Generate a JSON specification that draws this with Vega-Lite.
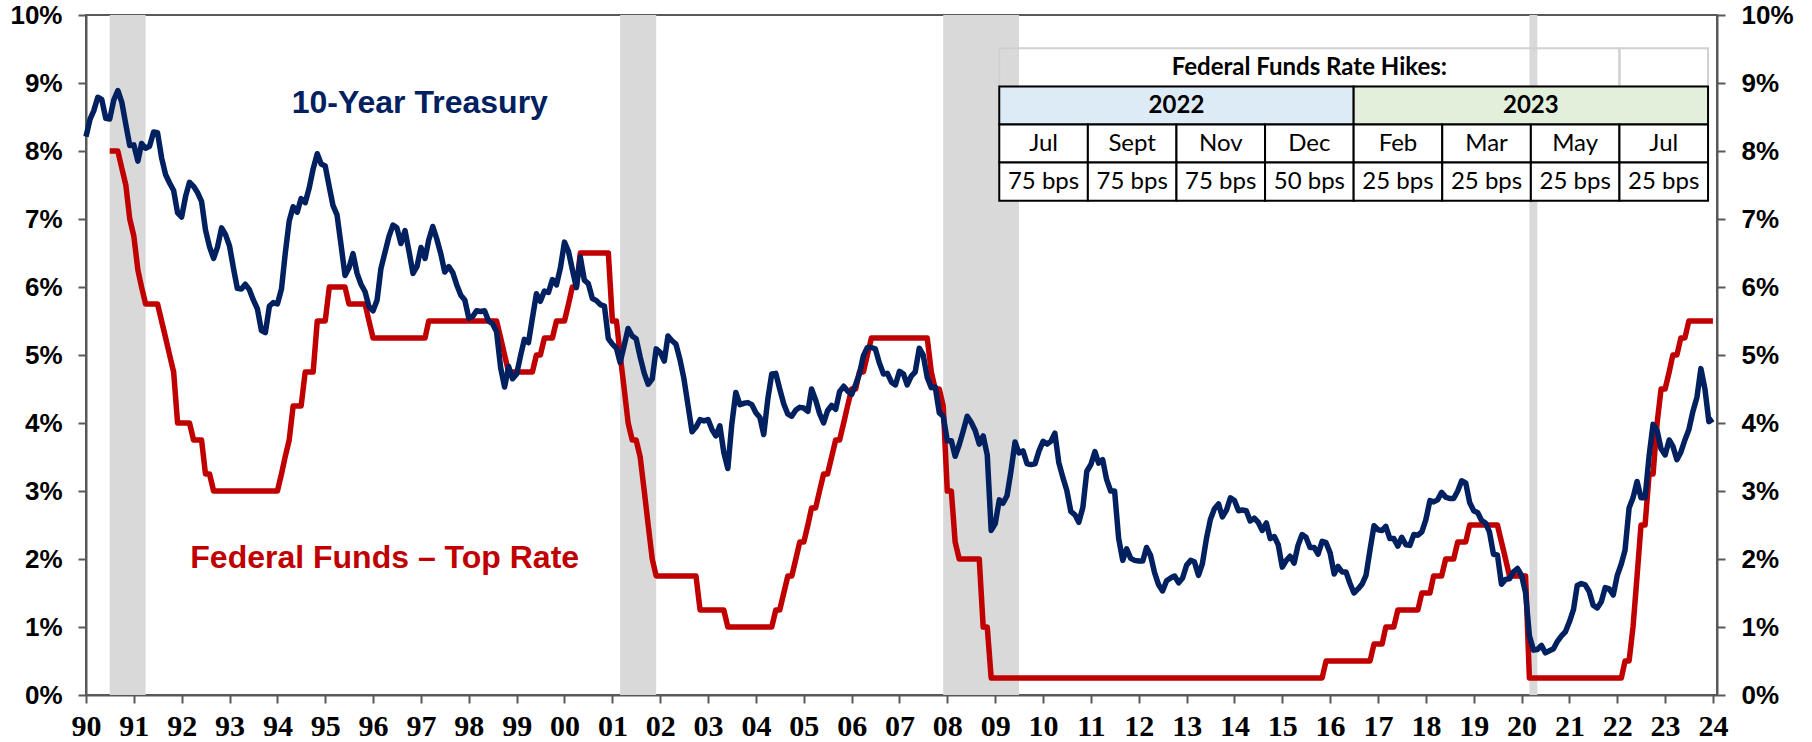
{
"$schema": "https://vega.github.io/schema/vega-lite/v6.json",
"width": 1631,
"height": 680,
"autosize": {"type": "none"},
"padding": {"left": 86, "top": 15, "right": 95, "bottom": 47},
"background": "#ffffff",
"config": {
  "view": {"stroke": "#595959", "strokeWidth": 2},
  "axis": {"domainColor": "#595959", "domainWidth": 2, "tickColor": "#595959", "tickWidth": 2, "tickSize": 8, "labelColor": "#000000", "labelFont": "Liberation Sans", "labelFontWeight": "bold", "grid": false},
  "axisX": {"labelFont": "Liberation Sans Narrow", "labelFontSize": 30, "labelPadding": 8},
  "axisY": {"labelFontSize": 26, "labelPadding": 16}
},
"datasets": {
"rates": [
{"date":"1990-01","ust":8.21},{"date":"1990-02","ust":8.47},{"date":"1990-03","ust":8.59},{"date":"1990-04","ust":8.79},{"date":"1990-05","ust":8.76},{"date":"1990-06","ust":8.48},{"date":"1990-07","ust":8.47,"ffr":8},{"date":"1990-08","ust":8.75,"ffr":8},{"date":"1990-09","ust":8.89,"ffr":8},{"date":"1990-10","ust":8.72,"ffr":7.75},{"date":"1990-11","ust":8.39,"ffr":7.5},{"date":"1990-12","ust":8.08,"ffr":7},
{"date":"1991-01","ust":8.09,"ffr":6.75},{"date":"1991-02","ust":7.85,"ffr":6.25},{"date":"1991-03","ust":8.11,"ffr":6},{"date":"1991-04","ust":8.04,"ffr":5.75},{"date":"1991-05","ust":8.07,"ffr":5.75},{"date":"1991-06","ust":8.28,"ffr":5.75},{"date":"1991-07","ust":8.27,"ffr":5.75},{"date":"1991-08","ust":7.9,"ffr":5.5},{"date":"1991-09","ust":7.65,"ffr":5.25},{"date":"1991-10","ust":7.53,"ffr":5},{"date":"1991-11","ust":7.42,"ffr":4.75},{"date":"1991-12","ust":7.09,"ffr":4},
{"date":"1992-01","ust":7.03,"ffr":4},{"date":"1992-02","ust":7.34,"ffr":4},{"date":"1992-03","ust":7.54,"ffr":4},{"date":"1992-04","ust":7.48,"ffr":3.75},{"date":"1992-05","ust":7.39,"ffr":3.75},{"date":"1992-06","ust":7.26,"ffr":3.75},{"date":"1992-07","ust":6.84,"ffr":3.25},{"date":"1992-08","ust":6.59,"ffr":3.25},{"date":"1992-09","ust":6.42,"ffr":3},{"date":"1992-10","ust":6.59,"ffr":3},{"date":"1992-11","ust":6.87,"ffr":3},{"date":"1992-12","ust":6.77,"ffr":3},
{"date":"1993-01","ust":6.6,"ffr":3},{"date":"1993-02","ust":6.26,"ffr":3},{"date":"1993-03","ust":5.98,"ffr":3},{"date":"1993-04","ust":5.97,"ffr":3},{"date":"1993-05","ust":6.04,"ffr":3},{"date":"1993-06","ust":5.96,"ffr":3},{"date":"1993-07","ust":5.81,"ffr":3},{"date":"1993-08","ust":5.68,"ffr":3},{"date":"1993-09","ust":5.36,"ffr":3},{"date":"1993-10","ust":5.33,"ffr":3},{"date":"1993-11","ust":5.72,"ffr":3},{"date":"1993-12","ust":5.77,"ffr":3},
{"date":"1994-01","ust":5.75,"ffr":3},{"date":"1994-02","ust":5.97,"ffr":3.25},{"date":"1994-03","ust":6.48,"ffr":3.5},{"date":"1994-04","ust":6.97,"ffr":3.75},{"date":"1994-05","ust":7.18,"ffr":4.25},{"date":"1994-06","ust":7.1,"ffr":4.25},{"date":"1994-07","ust":7.3,"ffr":4.25},{"date":"1994-08","ust":7.24,"ffr":4.75},{"date":"1994-09","ust":7.46,"ffr":4.75},{"date":"1994-10","ust":7.74,"ffr":4.75},{"date":"1994-11","ust":7.96,"ffr":5.5},{"date":"1994-12","ust":7.81,"ffr":5.5},
{"date":"1995-01","ust":7.78,"ffr":5.5},{"date":"1995-02","ust":7.47,"ffr":6},{"date":"1995-03","ust":7.2,"ffr":6},{"date":"1995-04","ust":7.06,"ffr":6},{"date":"1995-05","ust":6.63,"ffr":6},{"date":"1995-06","ust":6.17,"ffr":6},{"date":"1995-07","ust":6.28,"ffr":5.75},{"date":"1995-08","ust":6.49,"ffr":5.75},{"date":"1995-09","ust":6.2,"ffr":5.75},{"date":"1995-10","ust":6.04,"ffr":5.75},{"date":"1995-11","ust":5.93,"ffr":5.75},{"date":"1995-12","ust":5.71,"ffr":5.5},
{"date":"1996-01","ust":5.65,"ffr":5.25},{"date":"1996-02","ust":5.81,"ffr":5.25},{"date":"1996-03","ust":6.27,"ffr":5.25},{"date":"1996-04","ust":6.51,"ffr":5.25},{"date":"1996-05","ust":6.74,"ffr":5.25},{"date":"1996-06","ust":6.91,"ffr":5.25},{"date":"1996-07","ust":6.87,"ffr":5.25},{"date":"1996-08","ust":6.64,"ffr":5.25},{"date":"1996-09","ust":6.83,"ffr":5.25},{"date":"1996-10","ust":6.53,"ffr":5.25},{"date":"1996-11","ust":6.2,"ffr":5.25},{"date":"1996-12","ust":6.3,"ffr":5.25},
{"date":"1997-01","ust":6.58,"ffr":5.25},{"date":"1997-02","ust":6.42,"ffr":5.25},{"date":"1997-03","ust":6.69,"ffr":5.5},{"date":"1997-04","ust":6.89,"ffr":5.5},{"date":"1997-05","ust":6.71,"ffr":5.5},{"date":"1997-06","ust":6.49,"ffr":5.5},{"date":"1997-07","ust":6.22,"ffr":5.5},{"date":"1997-08","ust":6.3,"ffr":5.5},{"date":"1997-09","ust":6.21,"ffr":5.5},{"date":"1997-10","ust":6.03,"ffr":5.5},{"date":"1997-11","ust":5.88,"ffr":5.5},{"date":"1997-12","ust":5.81,"ffr":5.5},
{"date":"1998-01","ust":5.54,"ffr":5.5},{"date":"1998-02","ust":5.57,"ffr":5.5},{"date":"1998-03","ust":5.65,"ffr":5.5},{"date":"1998-04","ust":5.64,"ffr":5.5},{"date":"1998-05","ust":5.65,"ffr":5.5},{"date":"1998-06","ust":5.5,"ffr":5.5},{"date":"1998-07","ust":5.46,"ffr":5.5},{"date":"1998-08","ust":5.34,"ffr":5.5},{"date":"1998-09","ust":4.81,"ffr":5.25},{"date":"1998-10","ust":4.53,"ffr":5},{"date":"1998-11","ust":4.83,"ffr":4.75},{"date":"1998-12","ust":4.65,"ffr":4.75},
{"date":"1999-01","ust":4.72,"ffr":4.75},{"date":"1999-02","ust":5,"ffr":4.75},{"date":"1999-03","ust":5.23,"ffr":4.75},{"date":"1999-04","ust":5.18,"ffr":4.75},{"date":"1999-05","ust":5.54,"ffr":4.75},{"date":"1999-06","ust":5.9,"ffr":5},{"date":"1999-07","ust":5.79,"ffr":5},{"date":"1999-08","ust":5.94,"ffr":5.25},{"date":"1999-09","ust":5.92,"ffr":5.25},{"date":"1999-10","ust":6.11,"ffr":5.25},{"date":"1999-11","ust":6.03,"ffr":5.5},{"date":"1999-12","ust":6.28,"ffr":5.5},
{"date":"2000-01","ust":6.66,"ffr":5.5},{"date":"2000-02","ust":6.52,"ffr":5.75},{"date":"2000-03","ust":6.26,"ffr":6},{"date":"2000-04","ust":5.99,"ffr":6},{"date":"2000-05","ust":6.44,"ffr":6.5},{"date":"2000-06","ust":6.1,"ffr":6.5},{"date":"2000-07","ust":6.05,"ffr":6.5},{"date":"2000-08","ust":5.83,"ffr":6.5},{"date":"2000-09","ust":5.8,"ffr":6.5},{"date":"2000-10","ust":5.74,"ffr":6.5},{"date":"2000-11","ust":5.72,"ffr":6.5},{"date":"2000-12","ust":5.24,"ffr":6.5},
{"date":"2001-01","ust":5.16,"ffr":5.5},{"date":"2001-02","ust":5.1,"ffr":5.5},{"date":"2001-03","ust":4.89,"ffr":5},{"date":"2001-04","ust":5.14,"ffr":4.5},{"date":"2001-05","ust":5.39,"ffr":4},{"date":"2001-06","ust":5.28,"ffr":3.75},{"date":"2001-07","ust":5.24,"ffr":3.75},{"date":"2001-08","ust":4.97,"ffr":3.5},{"date":"2001-09","ust":4.73,"ffr":3},{"date":"2001-10","ust":4.57,"ffr":2.5},{"date":"2001-11","ust":4.65,"ffr":2},{"date":"2001-12","ust":5.09,"ffr":1.75},
{"date":"2002-01","ust":5.04,"ffr":1.75},{"date":"2002-02","ust":4.91,"ffr":1.75},{"date":"2002-03","ust":5.28,"ffr":1.75},{"date":"2002-04","ust":5.21,"ffr":1.75},{"date":"2002-05","ust":5.16,"ffr":1.75},{"date":"2002-06","ust":4.93,"ffr":1.75},{"date":"2002-07","ust":4.65,"ffr":1.75},{"date":"2002-08","ust":4.26,"ffr":1.75},{"date":"2002-09","ust":3.87,"ffr":1.75},{"date":"2002-10","ust":3.94,"ffr":1.75},{"date":"2002-11","ust":4.05,"ffr":1.25},{"date":"2002-12","ust":4.03,"ffr":1.25},
{"date":"2003-01","ust":4.05,"ffr":1.25},{"date":"2003-02","ust":3.9,"ffr":1.25},{"date":"2003-03","ust":3.81,"ffr":1.25},{"date":"2003-04","ust":3.96,"ffr":1.25},{"date":"2003-05","ust":3.57,"ffr":1.25},{"date":"2003-06","ust":3.33,"ffr":1},{"date":"2003-07","ust":3.98,"ffr":1},{"date":"2003-08","ust":4.45,"ffr":1},{"date":"2003-09","ust":4.27,"ffr":1},{"date":"2003-10","ust":4.29,"ffr":1},{"date":"2003-11","ust":4.3,"ffr":1},{"date":"2003-12","ust":4.27,"ffr":1},
{"date":"2004-01","ust":4.15,"ffr":1},{"date":"2004-02","ust":4.08,"ffr":1},{"date":"2004-03","ust":3.83,"ffr":1},{"date":"2004-04","ust":4.35,"ffr":1},{"date":"2004-05","ust":4.72,"ffr":1},{"date":"2004-06","ust":4.73,"ffr":1.25},{"date":"2004-07","ust":4.5,"ffr":1.25},{"date":"2004-08","ust":4.28,"ffr":1.5},{"date":"2004-09","ust":4.13,"ffr":1.75},{"date":"2004-10","ust":4.1,"ffr":1.75},{"date":"2004-11","ust":4.19,"ffr":2},{"date":"2004-12","ust":4.23,"ffr":2.25},
{"date":"2005-01","ust":4.22,"ffr":2.25},{"date":"2005-02","ust":4.17,"ffr":2.5},{"date":"2005-03","ust":4.5,"ffr":2.75},{"date":"2005-04","ust":4.34,"ffr":2.75},{"date":"2005-05","ust":4.14,"ffr":3},{"date":"2005-06","ust":4,"ffr":3.25},{"date":"2005-07","ust":4.18,"ffr":3.25},{"date":"2005-08","ust":4.26,"ffr":3.5},{"date":"2005-09","ust":4.2,"ffr":3.75},{"date":"2005-10","ust":4.46,"ffr":3.75},{"date":"2005-11","ust":4.54,"ffr":4},{"date":"2005-12","ust":4.47,"ffr":4.25},
{"date":"2006-01","ust":4.42,"ffr":4.5},{"date":"2006-02","ust":4.57,"ffr":4.5},{"date":"2006-03","ust":4.72,"ffr":4.75},{"date":"2006-04","ust":4.99,"ffr":4.75},{"date":"2006-05","ust":5.11,"ffr":5},{"date":"2006-06","ust":5.11,"ffr":5.25},{"date":"2006-07","ust":5.09,"ffr":5.25},{"date":"2006-08","ust":4.88,"ffr":5.25},{"date":"2006-09","ust":4.72,"ffr":5.25},{"date":"2006-10","ust":4.73,"ffr":5.25},{"date":"2006-11","ust":4.6,"ffr":5.25},{"date":"2006-12","ust":4.56,"ffr":5.25},
{"date":"2007-01","ust":4.76,"ffr":5.25},{"date":"2007-02","ust":4.72,"ffr":5.25},{"date":"2007-03","ust":4.56,"ffr":5.25},{"date":"2007-04","ust":4.69,"ffr":5.25},{"date":"2007-05","ust":4.75,"ffr":5.25},{"date":"2007-06","ust":5.1,"ffr":5.25},{"date":"2007-07","ust":5,"ffr":5.25},{"date":"2007-08","ust":4.67,"ffr":5.25},{"date":"2007-09","ust":4.52,"ffr":4.75},{"date":"2007-10","ust":4.53,"ffr":4.5},{"date":"2007-11","ust":4.15,"ffr":4.5},{"date":"2007-12","ust":4.1,"ffr":4.25},
{"date":"2008-01","ust":3.74,"ffr":3},{"date":"2008-02","ust":3.74,"ffr":3},{"date":"2008-03","ust":3.51,"ffr":2.25},{"date":"2008-04","ust":3.68,"ffr":2},{"date":"2008-05","ust":3.88,"ffr":2},{"date":"2008-06","ust":4.1,"ffr":2},{"date":"2008-07","ust":4.01,"ffr":2},{"date":"2008-08","ust":3.89,"ffr":2},{"date":"2008-09","ust":3.69,"ffr":2},{"date":"2008-10","ust":3.81,"ffr":1},{"date":"2008-11","ust":3.53,"ffr":1},{"date":"2008-12","ust":2.42,"ffr":0.25},
{"date":"2009-01","ust":2.52,"ffr":0.25},{"date":"2009-02","ust":2.87,"ffr":0.25},{"date":"2009-03","ust":2.82,"ffr":0.25},{"date":"2009-04","ust":2.93,"ffr":0.25},{"date":"2009-05","ust":3.29,"ffr":0.25},{"date":"2009-06","ust":3.72,"ffr":0.25},{"date":"2009-07","ust":3.56,"ffr":0.25},{"date":"2009-08","ust":3.59,"ffr":0.25},{"date":"2009-09","ust":3.4,"ffr":0.25},{"date":"2009-10","ust":3.39,"ffr":0.25},{"date":"2009-11","ust":3.4,"ffr":0.25},{"date":"2009-12","ust":3.59,"ffr":0.25},
{"date":"2010-01","ust":3.73,"ffr":0.25},{"date":"2010-02","ust":3.69,"ffr":0.25},{"date":"2010-03","ust":3.73,"ffr":0.25},{"date":"2010-04","ust":3.85,"ffr":0.25},{"date":"2010-05","ust":3.42,"ffr":0.25},{"date":"2010-06","ust":3.2,"ffr":0.25},{"date":"2010-07","ust":3.01,"ffr":0.25},{"date":"2010-08","ust":2.7,"ffr":0.25},{"date":"2010-09","ust":2.65,"ffr":0.25},{"date":"2010-10","ust":2.54,"ffr":0.25},{"date":"2010-11","ust":2.76,"ffr":0.25},{"date":"2010-12","ust":3.29,"ffr":0.25},
{"date":"2011-01","ust":3.39,"ffr":0.25},{"date":"2011-02","ust":3.58,"ffr":0.25},{"date":"2011-03","ust":3.41,"ffr":0.25},{"date":"2011-04","ust":3.46,"ffr":0.25},{"date":"2011-05","ust":3.17,"ffr":0.25},{"date":"2011-06","ust":3,"ffr":0.25},{"date":"2011-07","ust":3,"ffr":0.25},{"date":"2011-08","ust":2.3,"ffr":0.25},{"date":"2011-09","ust":1.98,"ffr":0.25},{"date":"2011-10","ust":2.15,"ffr":0.25},{"date":"2011-11","ust":2.01,"ffr":0.25},{"date":"2011-12","ust":1.98,"ffr":0.25},
{"date":"2012-01","ust":1.97,"ffr":0.25},{"date":"2012-02","ust":1.97,"ffr":0.25},{"date":"2012-03","ust":2.17,"ffr":0.25},{"date":"2012-04","ust":2.05,"ffr":0.25},{"date":"2012-05","ust":1.8,"ffr":0.25},{"date":"2012-06","ust":1.62,"ffr":0.25},{"date":"2012-07","ust":1.53,"ffr":0.25},{"date":"2012-08","ust":1.68,"ffr":0.25},{"date":"2012-09","ust":1.72,"ffr":0.25},{"date":"2012-10","ust":1.75,"ffr":0.25},{"date":"2012-11","ust":1.65,"ffr":0.25},{"date":"2012-12","ust":1.72,"ffr":0.25},
{"date":"2013-01","ust":1.91,"ffr":0.25},{"date":"2013-02","ust":1.98,"ffr":0.25},{"date":"2013-03","ust":1.96,"ffr":0.25},{"date":"2013-04","ust":1.76,"ffr":0.25},{"date":"2013-05","ust":1.93,"ffr":0.25},{"date":"2013-06","ust":2.3,"ffr":0.25},{"date":"2013-07","ust":2.58,"ffr":0.25},{"date":"2013-08","ust":2.74,"ffr":0.25},{"date":"2013-09","ust":2.81,"ffr":0.25},{"date":"2013-10","ust":2.62,"ffr":0.25},{"date":"2013-11","ust":2.72,"ffr":0.25},{"date":"2013-12","ust":2.9,"ffr":0.25},
{"date":"2014-01","ust":2.86,"ffr":0.25},{"date":"2014-02","ust":2.71,"ffr":0.25},{"date":"2014-03","ust":2.72,"ffr":0.25},{"date":"2014-04","ust":2.71,"ffr":0.25},{"date":"2014-05","ust":2.56,"ffr":0.25},{"date":"2014-06","ust":2.6,"ffr":0.25},{"date":"2014-07","ust":2.54,"ffr":0.25},{"date":"2014-08","ust":2.42,"ffr":0.25},{"date":"2014-09","ust":2.53,"ffr":0.25},{"date":"2014-10","ust":2.3,"ffr":0.25},{"date":"2014-11","ust":2.33,"ffr":0.25},{"date":"2014-12","ust":2.21,"ffr":0.25},
{"date":"2015-01","ust":1.88,"ffr":0.25},{"date":"2015-02","ust":1.98,"ffr":0.25},{"date":"2015-03","ust":2.04,"ffr":0.25},{"date":"2015-04","ust":1.94,"ffr":0.25},{"date":"2015-05","ust":2.2,"ffr":0.25},{"date":"2015-06","ust":2.36,"ffr":0.25},{"date":"2015-07","ust":2.32,"ffr":0.25},{"date":"2015-08","ust":2.17,"ffr":0.25},{"date":"2015-09","ust":2.17,"ffr":0.25},{"date":"2015-10","ust":2.07,"ffr":0.25},{"date":"2015-11","ust":2.26,"ffr":0.25},{"date":"2015-12","ust":2.24,"ffr":0.5},
{"date":"2016-01","ust":2.09,"ffr":0.5},{"date":"2016-02","ust":1.78,"ffr":0.5},{"date":"2016-03","ust":1.89,"ffr":0.5},{"date":"2016-04","ust":1.81,"ffr":0.5},{"date":"2016-05","ust":1.81,"ffr":0.5},{"date":"2016-06","ust":1.64,"ffr":0.5},{"date":"2016-07","ust":1.5,"ffr":0.5},{"date":"2016-08","ust":1.56,"ffr":0.5},{"date":"2016-09","ust":1.63,"ffr":0.5},{"date":"2016-10","ust":1.76,"ffr":0.5},{"date":"2016-11","ust":2.14,"ffr":0.5},{"date":"2016-12","ust":2.49,"ffr":0.75},
{"date":"2017-01","ust":2.43,"ffr":0.75},{"date":"2017-02","ust":2.42,"ffr":0.75},{"date":"2017-03","ust":2.48,"ffr":1},{"date":"2017-04","ust":2.3,"ffr":1},{"date":"2017-05","ust":2.3,"ffr":1},{"date":"2017-06","ust":2.19,"ffr":1.25},{"date":"2017-07","ust":2.32,"ffr":1.25},{"date":"2017-08","ust":2.21,"ffr":1.25},{"date":"2017-09","ust":2.2,"ffr":1.25},{"date":"2017-10","ust":2.36,"ffr":1.25},{"date":"2017-11","ust":2.35,"ffr":1.25},{"date":"2017-12","ust":2.4,"ffr":1.5},
{"date":"2018-01","ust":2.58,"ffr":1.5},{"date":"2018-02","ust":2.86,"ffr":1.5},{"date":"2018-03","ust":2.84,"ffr":1.75},{"date":"2018-04","ust":2.87,"ffr":1.75},{"date":"2018-05","ust":2.98,"ffr":1.75},{"date":"2018-06","ust":2.91,"ffr":2},{"date":"2018-07","ust":2.89,"ffr":2},{"date":"2018-08","ust":2.89,"ffr":2},{"date":"2018-09","ust":3,"ffr":2.25},{"date":"2018-10","ust":3.15,"ffr":2.25},{"date":"2018-11","ust":3.12,"ffr":2.25},{"date":"2018-12","ust":2.83,"ffr":2.5},
{"date":"2019-01","ust":2.71,"ffr":2.5},{"date":"2019-02","ust":2.68,"ffr":2.5},{"date":"2019-03","ust":2.57,"ffr":2.5},{"date":"2019-04","ust":2.53,"ffr":2.5},{"date":"2019-05","ust":2.4,"ffr":2.5},{"date":"2019-06","ust":2.07,"ffr":2.5},{"date":"2019-07","ust":2.06,"ffr":2.5},{"date":"2019-08","ust":1.63,"ffr":2.25},{"date":"2019-09","ust":1.7,"ffr":2},{"date":"2019-10","ust":1.71,"ffr":1.75},{"date":"2019-11","ust":1.81,"ffr":1.75},{"date":"2019-12","ust":1.86,"ffr":1.75},
{"date":"2020-01","ust":1.76,"ffr":1.75},{"date":"2020-02","ust":1.5,"ffr":1.75},{"date":"2020-03","ust":0.87,"ffr":0.25},{"date":"2020-04","ust":0.66,"ffr":0.25},{"date":"2020-05","ust":0.67,"ffr":0.25},{"date":"2020-06","ust":0.73,"ffr":0.25},{"date":"2020-07","ust":0.62,"ffr":0.25},{"date":"2020-08","ust":0.65,"ffr":0.25},{"date":"2020-09","ust":0.68,"ffr":0.25},{"date":"2020-10","ust":0.79,"ffr":0.25},{"date":"2020-11","ust":0.87,"ffr":0.25},{"date":"2020-12","ust":0.93,"ffr":0.25},
{"date":"2021-01","ust":1.08,"ffr":0.25},{"date":"2021-02","ust":1.26,"ffr":0.25},{"date":"2021-03","ust":1.61,"ffr":0.25},{"date":"2021-04","ust":1.64,"ffr":0.25},{"date":"2021-05","ust":1.62,"ffr":0.25},{"date":"2021-06","ust":1.52,"ffr":0.25},{"date":"2021-07","ust":1.32,"ffr":0.25},{"date":"2021-08","ust":1.28,"ffr":0.25},{"date":"2021-09","ust":1.37,"ffr":0.25},{"date":"2021-10","ust":1.58,"ffr":0.25},{"date":"2021-11","ust":1.56,"ffr":0.25},{"date":"2021-12","ust":1.47,"ffr":0.25},
{"date":"2022-01","ust":1.76,"ffr":0.25},{"date":"2022-02","ust":1.93,"ffr":0.25},{"date":"2022-03","ust":2.13,"ffr":0.5},{"date":"2022-04","ust":2.75,"ffr":0.5},{"date":"2022-05","ust":2.9,"ffr":1},{"date":"2022-06","ust":3.14,"ffr":1.75},{"date":"2022-07","ust":2.9,"ffr":2.5},{"date":"2022-08","ust":2.9,"ffr":2.5},{"date":"2022-09","ust":3.52,"ffr":3.25},{"date":"2022-10","ust":3.98,"ffr":3.25},{"date":"2022-11","ust":3.89,"ffr":4},{"date":"2022-12","ust":3.62,"ffr":4.5},
{"date":"2023-01","ust":3.53,"ffr":4.5},{"date":"2023-02","ust":3.75,"ffr":4.75},{"date":"2023-03","ust":3.66,"ffr":5},{"date":"2023-04","ust":3.46,"ffr":5},{"date":"2023-05","ust":3.57,"ffr":5.25},{"date":"2023-06","ust":3.75,"ffr":5.25},{"date":"2023-07","ust":3.9,"ffr":5.5},{"date":"2023-08","ust":4.17,"ffr":5.5},{"date":"2023-09","ust":4.38,"ffr":5.5},{"date":"2023-10","ust":4.8,"ffr":5.5},{"date":"2023-11","ust":4.5,"ffr":5.5},{"date":"2023-12","ust":4.02,"ffr":5.5},
{"date":"2024-01","ust":4.06,"ffr":5.5}
],
"table": [
{"part":"title","c0":0,"c1":7,"r0":0,"r1":1,"label":"Federal Funds Rate Hikes:"},
{"part":"title","c0":7,"c1":8,"r0":0,"r1":1,"label":""},
{"part":"y2022","c0":0,"c1":4,"r0":1,"r1":2,"label":"2022"},
{"part":"y2023","c0":4,"c1":8,"r0":1,"r1":2,"label":"2023"},
{"part":"cell","c0":0,"c1":1,"r0":2,"r1":3,"label":"Jul"},
{"part":"cell","c0":1,"c1":2,"r0":2,"r1":3,"label":"Sept"},
{"part":"cell","c0":2,"c1":3,"r0":2,"r1":3,"label":"Nov"},
{"part":"cell","c0":3,"c1":4,"r0":2,"r1":3,"label":"Dec"},
{"part":"cell","c0":4,"c1":5,"r0":2,"r1":3,"label":"Feb"},
{"part":"cell","c0":5,"c1":6,"r0":2,"r1":3,"label":"Mar"},
{"part":"cell","c0":6,"c1":7,"r0":2,"r1":3,"label":"May"},
{"part":"cell","c0":7,"c1":8,"r0":2,"r1":3,"label":"Jul"},
{"part":"cell","c0":0,"c1":1,"r0":3,"r1":4,"label":"75 bps"},
{"part":"cell","c0":1,"c1":2,"r0":3,"r1":4,"label":"75 bps"},
{"part":"cell","c0":2,"c1":3,"r0":3,"r1":4,"label":"75 bps"},
{"part":"cell","c0":3,"c1":4,"r0":3,"r1":4,"label":"50 bps"},
{"part":"cell","c0":4,"c1":5,"r0":3,"r1":4,"label":"25 bps"},
{"part":"cell","c0":5,"c1":6,"r0":3,"r1":4,"label":"25 bps"},
{"part":"cell","c0":6,"c1":7,"r0":3,"r1":4,"label":"25 bps"},
{"part":"cell","c0":7,"c1":8,"r0":3,"r1":4,"label":"25 bps"}
]
},
"layer": [
{
"layer": [
{
"data": {"values": [{"start":"1990-07","end":"1991-04"},{"start":"2001-03","end":"2001-12"},{"start":"2007-12","end":"2009-07"},{"start":"2020-03","end":"2020-05"}], "format": {"parse": {"start": "date", "end": "date"}}},
"mark": {"type": "rect", "color": "#d9d9d9"},
"encoding": {
"x": {"field": "start", "type": "temporal", "scale": {"type": "utc", "domain": [{"year":1990,"month":1,"date":1,"utc":true},{"year":2024,"month":2,"date":1,"utc":true}]}, "title": null},
"x2": {"field": "end"},
"y": {"datum": 0, "type": "quantitative", "scale": {"domain": [0, 10]}, "axis": null},
"y2": {"datum": 10}
}
},
{
"data": {"name": "rates"},
"mark": {"type": "line", "color": "#c00000", "strokeWidth": 5.5, "strokeJoin": "round"},
"encoding": {
"x": {"field": "date", "type": "temporal", "scale": {"type": "utc", "domain": [{"year":1990,"month":1,"date":1,"utc":true},{"year":2024,"month":2,"date":1,"utc":true}]}, "axis": {"format": "%y", "tickCount": {"interval": "year", "step": 1}, "labelFlush": false, "labelOverlap": false}, "title": null},
"y": {"field": "ffr", "type": "quantitative", "scale": {"domain": [0, 10]}, "axis": {"orient": "left", "values": [0,1,2,3,4,5,6,7,8,9,10], "labelExpr": "datum.value + '%'"}, "title": null}
}
},
{
"data": {"name": "rates"},
"mark": {"type": "line", "color": "#002060", "strokeWidth": 5.5, "strokeJoin": "round"},
"encoding": {
"x": {"field": "date", "type": "temporal", "scale": {"type": "utc", "domain": [{"year":1990,"month":1,"date":1,"utc":true},{"year":2024,"month":2,"date":1,"utc":true}]}, "title": null},
"y": {"field": "ust", "type": "quantitative", "scale": {"domain": [0, 10]}, "axis": {"orient": "right", "values": [0,1,2,3,4,5,6,7,8,9,10], "labelExpr": "datum.value + '%'"}, "title": null}
}
},
{
"data": {"values": [{"label": "10-Year Treasury"}]},
"mark": {"type": "text", "align": "left", "baseline": "alphabetic", "font": "Liberation Sans", "fontWeight": "bold", "fontSize": 32, "color": "#002060"},
"encoding": {
"text": {"field": "label"},
"x": {"datum": {"year": 1994, "month": 4, "date": 20, "utc": true}, "type": "temporal", "scale": {"type": "utc", "domain": [{"year":1990,"month":1,"date":1,"utc":true},{"year":2024,"month":2,"date":1,"utc":true}]}},
"y": {"datum": 8.56, "type": "quantitative", "scale": {"domain": [0, 10]}, "axis": null}
}
},
{
"data": {"values": [{"label": "Federal Funds – Top Rate"}]},
"mark": {"type": "text", "align": "left", "baseline": "alphabetic", "font": "Liberation Sans", "fontWeight": "bold", "fontSize": 32, "color": "#c00000"},
"encoding": {
"text": {"field": "label"},
"x": {"datum": {"year": 1992, "month": 3, "date": 7, "utc": true}, "type": "temporal", "scale": {"type": "utc", "domain": [{"year":1990,"month":1,"date":1,"utc":true},{"year":2024,"month":2,"date":1,"utc":true}]}},
"y": {"datum": 1.87, "type": "quantitative", "scale": {"domain": [0, 10]}, "axis": null}
}
}
],
"resolve": {"axis": {"y": "independent"}}
},
{
"data": {"name": "table"},
"transform": [
{"calculate": "(datum.c0 + datum.c1) / 2", "as": "cx"},
{"calculate": "datum.r0 + 0.52", "as": "cy"}
],
"layer": [
{
"mark": {"type": "rect", "strokeWidth": 2},
"encoding": {
"x": {"field": "c0", "type": "quantitative", "scale": {"domain": [-10.308, 8.101], "nice": false, "zero": false}, "axis": null},
"x2": {"field": "c1"},
"y": {"field": "r0", "type": "quantitative", "scale": {"domain": [-0.874, 16.973], "reverse": true, "nice": false, "zero": false}, "axis": null},
"y2": {"field": "r1"},
"fill": {"field": "part", "type": "nominal", "scale": {"domain": ["title", "y2022", "y2023", "cell"], "range": ["transparent", "#ddebf7", "#e2efda", "#ffffff"]}, "legend": null},
"stroke": {"field": "part", "type": "nominal", "scale": {"domain": ["title", "y2022", "y2023", "cell"], "range": ["#d0d0d0", "#000000", "#000000", "#000000"]}, "legend": null}
}
},
{
"transform": [{"filter": "datum.part !== 'cell'"}],
"mark": {"type": "text", "align": "center", "baseline": "middle", "font": "Lato", "fontWeight": "bold", "fontSize": 24, "color": "#000000"},
"encoding": {
"x": {"field": "cx", "type": "quantitative", "axis": null},
"y": {"field": "cy", "type": "quantitative", "axis": null},
"text": {"field": "label"}
}
},
{
"transform": [{"filter": "datum.part === 'cell'"}],
"mark": {"type": "text", "align": "center", "baseline": "middle", "font": "Lato", "fontSize": 24, "color": "#000000"},
"encoding": {
"x": {"field": "cx", "type": "quantitative", "axis": null},
"y": {"field": "cy", "type": "quantitative", "axis": null},
"text": {"field": "label"}
}
}
]
}
],
"resolve": {"scale": {"x": "independent", "y": "independent"}}
}
